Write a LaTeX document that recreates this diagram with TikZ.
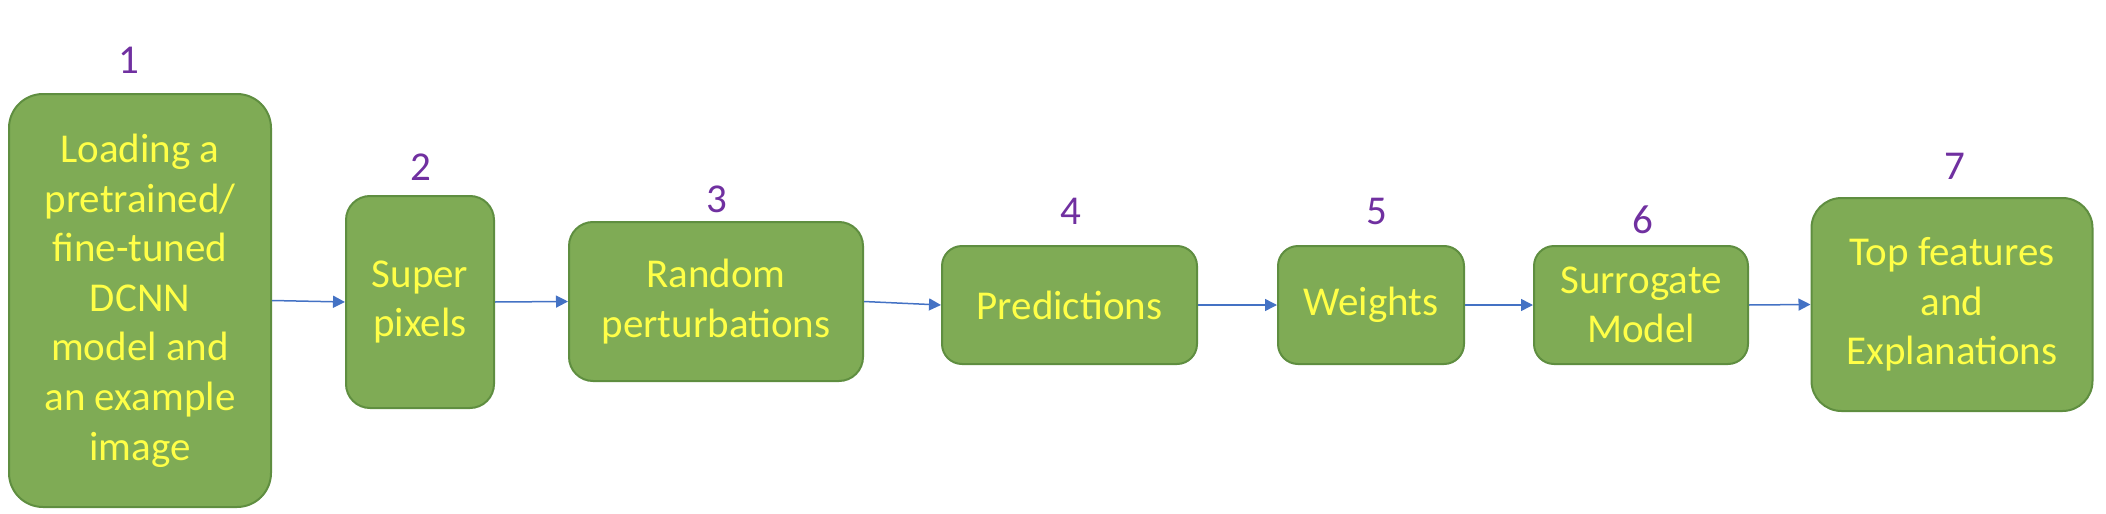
\documentclass[tikz,border=0pt]{standalone}
\usepackage{xcolor}
\usepackage{fontspec}
\setmainfont{Carlito}
\usepackage{tikz}
\usetikzlibrary{arrows.meta}

\definecolor{boxgreen}{HTML}{7FAB55}
\definecolor{boxline}{HTML}{5F8E40}
\definecolor{txtyellow}{HTML}{FFFF47}
\definecolor{numpurple}{HTML}{7030A0}
\definecolor{arrowblue}{HTML}{4472C4}

\tikzset{
    stagebox/.style={draw=boxline, fill=boxgreen, line width=1pt, text=txtyellow,
        align=center, inner sep=0pt, font=\fontsize{20.5}{24.8}\selectfont},
    stagenum/.style={text=numpurple, inner sep=0pt, font=\fontsize{20.5}{24}\selectfont},
    flow/.style={draw=arrowblue, line width=0.75pt, -{Triangle[length=6pt,width=6pt]}}
}

\begin{document}
\begin{tikzpicture}[x=0.5pt,y=0.5pt,yscale=-1,xscale=1]
    \useasboundingbox (0,0) rectangle (2106,514);

    % stages
    \node [stagebox, minimum width=131pt, minimum height=206.5pt, rounded corners=17pt] (load) at (140,300.5)
        {Loading a\\pretrained/\\fine-tuned\\DCNN\\model and\\an example\\image};
    \node [stagebox, minimum width=74pt, minimum height=106pt, rounded corners=12pt] (superpix) at (420,302) {Super\\pixels};
    \node [stagebox, minimum width=147pt, minimum height=79.5pt, rounded corners=12pt] (perturb) at (716,301.5) {Random\\perturbations};
    \node [stagebox, minimum width=127.5pt, minimum height=59pt, rounded corners=10pt] (predict) at (1069.5,305) {Predictions};
    \node [stagebox, minimum width=93pt, minimum height=59pt, rounded corners=10pt] (weights) at (1371,305) {Weights};
    \node [stagebox, minimum width=107pt, minimum height=59pt, rounded corners=10pt] (surrogate) at (1641,305) {Surrogate\\Model};
    \node [stagebox, minimum width=140.5pt, minimum height=106.5pt, rounded corners=15pt] (explain) at (1952,304.5) {Top features\\and\\Explanations};

    % step numbers
    \node [stagenum] (n1) at (129,60) {1};
    \node [stagenum] (n2) at (421,167) {2};
    \node [stagenum] (n3) at (717,199) {3};
    \node [stagenum] (n4) at (1071,211) {4};
    \node [stagenum] (n5) at (1377,211) {5};
    \node [stagenum] (n6) at (1643,220) {6};
    \node [stagenum] (n7) at (1955,166) {7};

    % arrows
    \draw [flow] (load.east) -- (superpix.west);
    \draw [flow] (superpix.east) -- (perturb.west);
    \draw [flow] (perturb.east) -- (predict.west);
    \draw [flow] (predict.east) -- (weights.west);
    \draw [flow] (weights.east) -- (surrogate.west);
    \draw [flow] (surrogate.east) -- (explain.west);

\end{tikzpicture}
\end{document}
